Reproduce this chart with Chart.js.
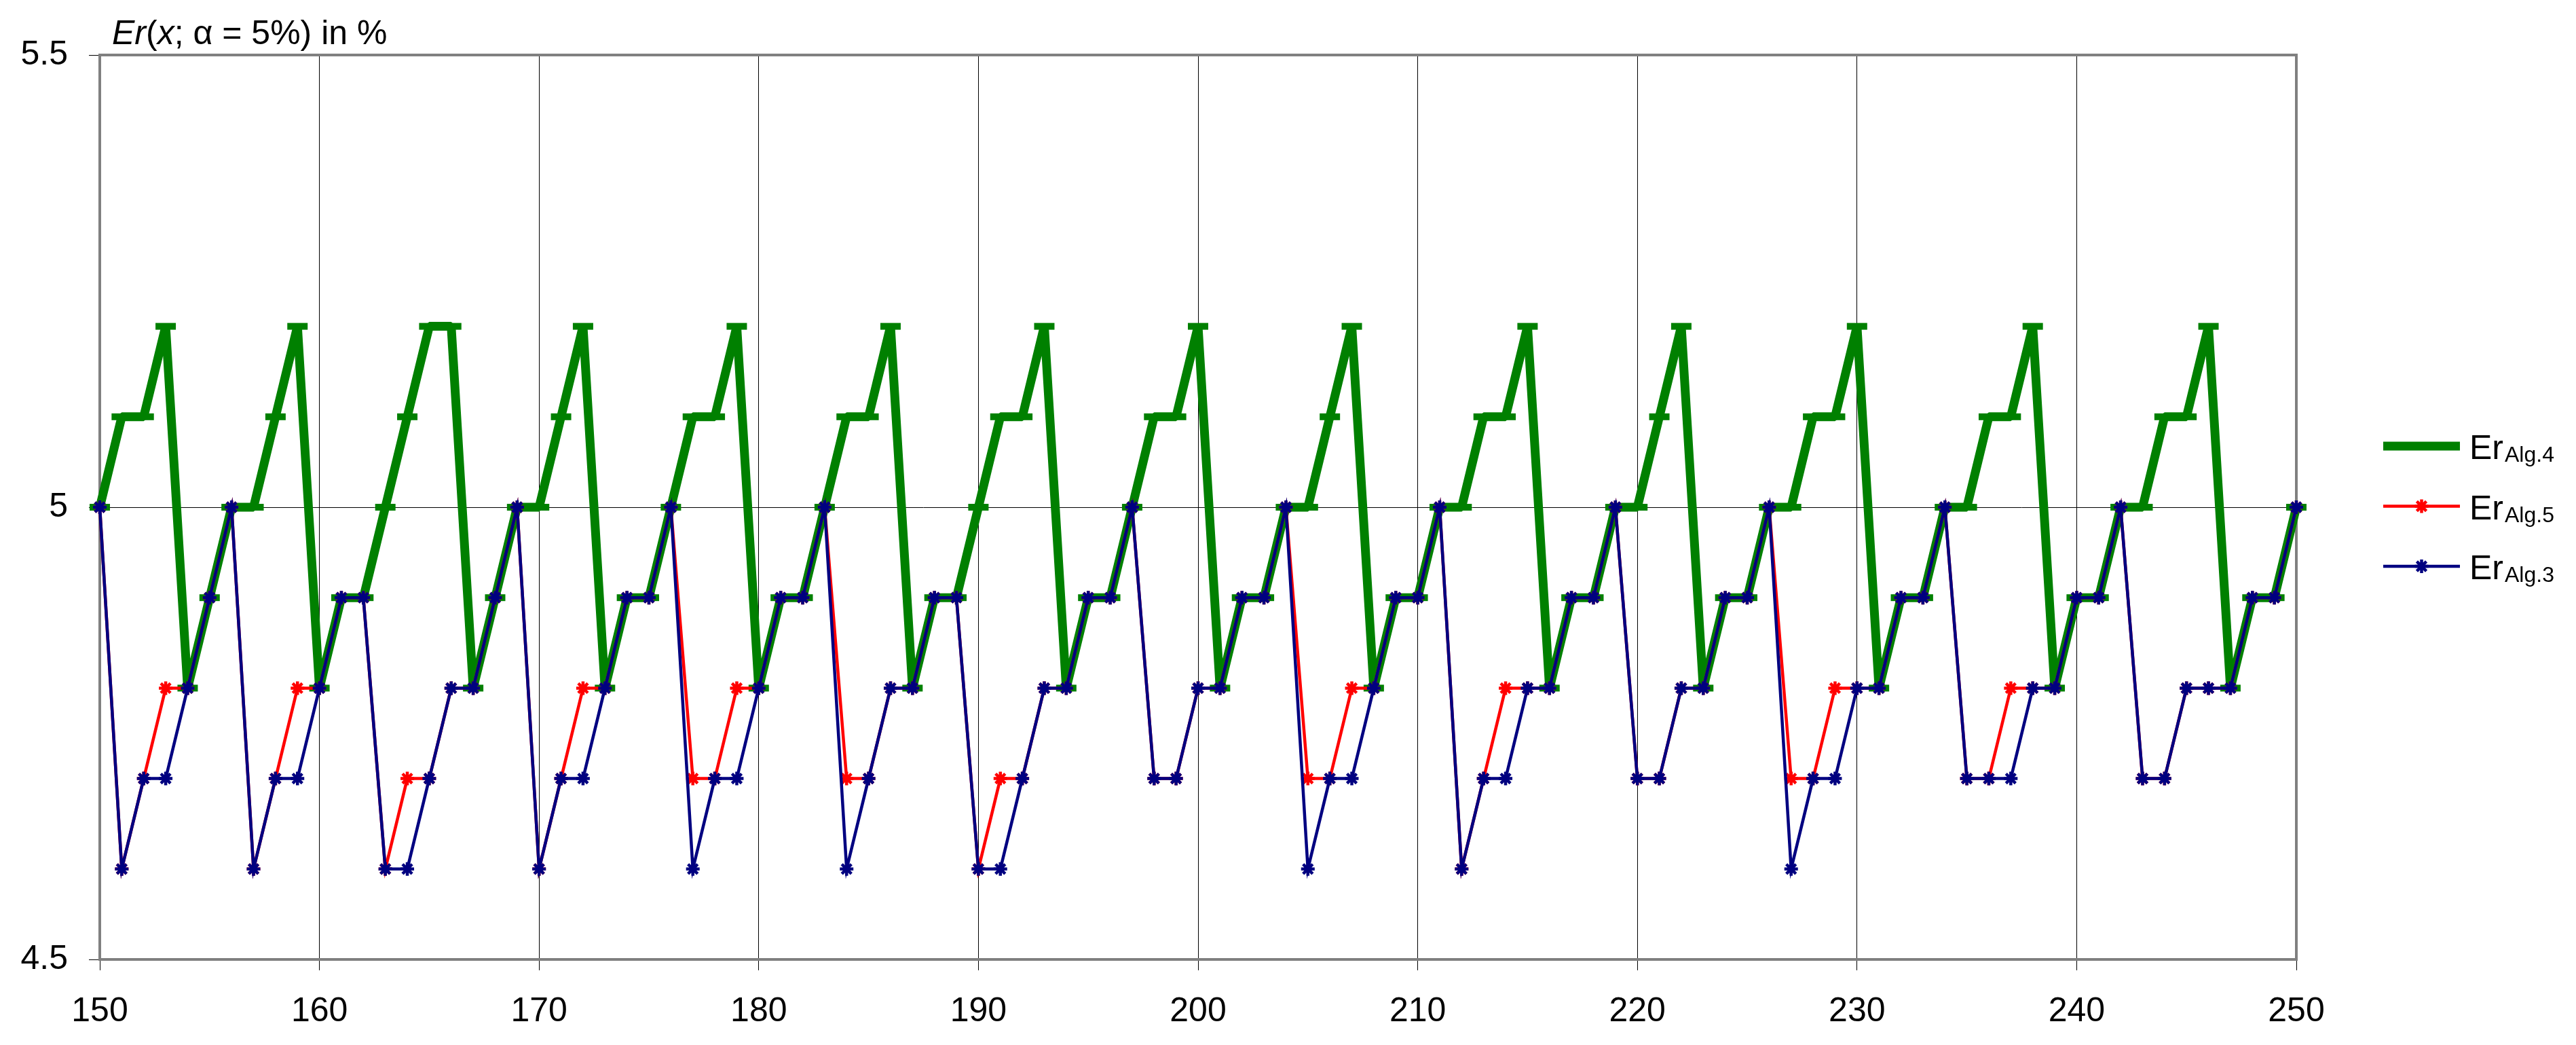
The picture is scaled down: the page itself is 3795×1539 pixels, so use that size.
<!DOCTYPE html>
<html>
<head>
<meta charset="utf-8">
<script src="https://cdn.jsdelivr.net/npm/chart.js@4.4.1/dist/chart.umd.min.js"></script>
<style>
html,body{margin:0;padding:0;background:#ffffff;}
canvas{display:block;}
</style>
</head>
<body>
<canvas id="c" width="3795" height="1539"></canvas>
<script>
// ---------- DATA ----------
const xValues = [150,151,152,153,154,155,156,157,158,159,
  160,161,162,163,164,165,166,167,168,169,
  170,171,172,173,174,175,176,177,178,179,
  180,181,182,183,184,185,186,187,188,189,
  190,191,192,193,194,195,196,197,198,199,
  200,201,202,203,204,205,206,207,208,209,
  210,211,212,213,214,215,216,217,218,219,
  220,221,222,223,224,225,226,227,228,229,
  230,231,232,233,234,235,236,237,238,239,
  240,241,242,243,244,245,246,247,248,249,
  250];

const erAlg4 = [5.0,5.1,5.1,5.2,4.8,4.9,5.0,5.0,5.1,5.2,
  4.8,4.9,4.9,5.0,5.1,5.2,5.2,4.8,4.9,5.0,
  5.0,5.1,5.2,4.8,4.9,4.9,5.0,5.1,5.1,5.2,
  4.8,4.9,4.9,5.0,5.1,5.1,5.2,4.8,4.9,4.9,
  5.0,5.1,5.1,5.2,4.8,4.9,4.9,5.0,5.1,5.1,
  5.2,4.8,4.9,4.9,5.0,5.0,5.1,5.2,4.8,4.9,
  4.9,5.0,5.0,5.1,5.1,5.2,4.8,4.9,4.9,5.0,
  5.0,5.1,5.2,4.8,4.9,4.9,5.0,5.0,5.1,5.1,
  5.2,4.8,4.9,4.9,5.0,5.0,5.1,5.1,5.2,4.8,
  4.9,4.9,5.0,5.0,5.1,5.1,5.2,4.8,4.9,4.9,
  5.0];

const erAlg5 = [5.0,4.6,4.7,4.8,4.8,4.9,5.0,4.6,4.7,4.8,
  4.8,4.9,4.9,4.6,4.7,4.7,4.8,4.8,4.9,5.0,
  4.6,4.7,4.8,4.8,4.9,4.9,5.0,4.7,4.7,4.8,
  4.8,4.9,4.9,5.0,4.7,4.7,4.8,4.8,4.9,4.9,
  4.6,4.7,4.7,4.8,4.8,4.9,4.9,5.0,4.7,4.7,
  4.8,4.8,4.9,4.9,5.0,4.7,4.7,4.8,4.8,4.9,
  4.9,5.0,4.6,4.7,4.8,4.8,4.8,4.9,4.9,5.0,
  4.7,4.7,4.8,4.8,4.9,4.9,5.0,4.7,4.7,4.8,
  4.8,4.8,4.9,4.9,5.0,4.7,4.7,4.8,4.8,4.8,
  4.9,4.9,5.0,4.7,4.7,4.8,4.8,4.8,4.9,4.9,
  5.0];

const erAlg3 = [5.0,4.6,4.7,4.7,4.8,4.9,5.0,4.6,4.7,4.7,
  4.8,4.9,4.9,4.6,4.6,4.7,4.8,4.8,4.9,5.0,
  4.6,4.7,4.7,4.8,4.9,4.9,5.0,4.6,4.7,4.7,
  4.8,4.9,4.9,5.0,4.6,4.7,4.8,4.8,4.9,4.9,
  4.6,4.6,4.7,4.8,4.8,4.9,4.9,5.0,4.7,4.7,
  4.8,4.8,4.9,4.9,5.0,4.6,4.7,4.7,4.8,4.9,
  4.9,5.0,4.6,4.7,4.7,4.8,4.8,4.9,4.9,5.0,
  4.7,4.7,4.8,4.8,4.9,4.9,5.0,4.6,4.7,4.7,
  4.8,4.8,4.9,4.9,5.0,4.7,4.7,4.7,4.8,4.8,
  4.9,4.9,5.0,4.7,4.7,4.8,4.8,4.8,4.9,4.9,
  5.0];

const seriesBase = ['Er', 'Er', 'Er'];
const seriesSub = ['Alg.4', 'Alg.5', 'Alg.3'];
const xTicks = [150,160,170,180,190,200,210,220,230,240,250];
const yTicks = [4.5, 5, 5.5];
const yTickLabels = ['4.5', '5', '5.5'];

// ---------- CHART ----------
const FONT = "'Liberation Sans', Arial, sans-serif";
const toPts = ys => xValues.map((x, i) => ({x: x, y: ys[i]}));

const datasets = [
  {
    label: seriesBase[0] + seriesSub[0], data: toPts(erAlg4),
    borderColor: '#008000', backgroundColor: '#008000', borderWidth: 13,
    borderJoinStyle: 'bevel',
    pointStyle: 'line', pointRadius: 15, pointBorderWidth: 10, pointHoverRadius: 15,
    order: 3, clip: false
  },
  {
    label: seriesBase[1] + seriesSub[1], data: toPts(erAlg5),
    borderColor: '#ff0000', backgroundColor: '#ff0000', borderWidth: 4.5,
    pointStyle: 'star', pointRadius: 10, pointBorderWidth: 4.5, pointHoverRadius: 10,
    order: 2, clip: false
  },
  {
    label: seriesBase[2] + seriesSub[2], data: toPts(erAlg3),
    borderColor: '#000080', backgroundColor: '#000080', borderWidth: 4.5,
    pointStyle: 'star', pointRadius: 10, pointBorderWidth: 4.5, pointHoverRadius: 10,
    order: 1, clip: false
  }
];

const frame = {
  id: 'frame',
  beforeDatasetsDraw(chart) {
    const a = chart.chartArea, ctx = chart.ctx;
    ctx.save();
    ctx.strokeStyle = '#808080';
    ctx.lineWidth = 4;
    ctx.strokeRect(a.left, a.top, a.right - a.left, a.bottom - a.top);
    ctx.restore();
  }
};

const titleAndLegend = {
  id: 'titleAndLegend',
  afterDraw(chart) {
    const ctx = chart.ctx, a = chart.chartArea;
    ctx.save();
    ctx.fillStyle = '#000';
    ctx.textBaseline = 'alphabetic';
    ctx.textAlign = 'left';
    // title
    const parts = [['Er', true], ['(', false], ['x', true], ['; \u03b1 = 5%) in %', false]];
    let tx = a.left + 18;
    const ty = a.top - 16;
    parts.forEach(([t, it]) => {
      ctx.font = (it ? 'italic ' : '') + '50px ' + FONT;
      ctx.fillText(t, tx, ty);
      tx += ctx.measureText(t).width;
    });
    // legend
    const legendX1 = a.right + 128, legendX2 = a.right + 241;
    const legendY0 = 657, legendStep = 88.5;
    const helpers = Chart.helpers;
    [0, 1, 2].forEach((di, k) => {
      const ds = chart.data.datasets[di];
      const y = legendY0 + k * legendStep;
      ctx.strokeStyle = ds.borderColor;
      ctx.fillStyle = ds.borderColor;
      ctx.lineWidth = ds.borderWidth;
      ctx.lineCap = 'butt';
      ctx.beginPath();
      ctx.moveTo(legendX1, y);
      ctx.lineTo(legendX2, y);
      ctx.stroke();
      ctx.lineWidth = ds.pointBorderWidth;
      helpers.drawPoint(ctx, {pointStyle: ds.pointStyle, radius: ds.pointRadius, borderWidth: ds.pointBorderWidth, rotation: 0}, (legendX1 + legendX2) / 2, y);
      ctx.fillStyle = '#000';
      ctx.font = '50px ' + FONT;
      const bx = legendX2 + 14;
      ctx.fillText(seriesBase[di], bx, y + 19);
      const w = ctx.measureText(seriesBase[di]).width;
      ctx.font = '32px ' + FONT;
      ctx.fillText(seriesSub[di], bx + w + 2, y + 23);
    });
    ctx.restore();
  }
};

new Chart(document.getElementById('c'), {
  type: 'line',
  data: { datasets: datasets },
  options: {
    responsive: false,
    animation: false,
    devicePixelRatio: 1,
    layout: { padding: { top: 81, right: 412, bottom: 0, left: 0 } },
    plugins: { legend: { display: false }, title: { display: false }, tooltip: { enabled: false } },
    elements: { line: { tension: 0 } },
    scales: {
      x: {
        type: 'linear', min: 150, max: 250,
        afterBuildTicks: s => { s.ticks = xTicks.map(v => ({value: v})); },
        afterFit: s => { s.height = 126; },
        grid: { color: '#000', lineWidth: 1, tickLength: 16, tickColor: '#000', drawTicks: true },
        border: { display: false },
        ticks: { font: { family: FONT, size: 50 }, color: '#000', padding: 31, maxRotation: 0, autoSkip: false,
                 callback: v => String(v) }
      },
      y: {
        type: 'linear', min: 4.5, max: 5.5,
        afterBuildTicks: s => { s.ticks = yTicks.map(v => ({value: v})); },
        afterFit: s => { s.width = 147; },
        grid: { color: '#000', lineWidth: 1, tickLength: 16, tickColor: '#000', drawTicks: true },
        border: { display: false },
        ticks: { font: { family: FONT, size: 50 }, color: '#000', padding: 31,
                 callback: v => { const i = yTicks.indexOf(v); return i >= 0 ? yTickLabels[i] : ''; } }
      }
    }
  },
  plugins: [frame, titleAndLegend]
});
</script>
</body>
</html>
